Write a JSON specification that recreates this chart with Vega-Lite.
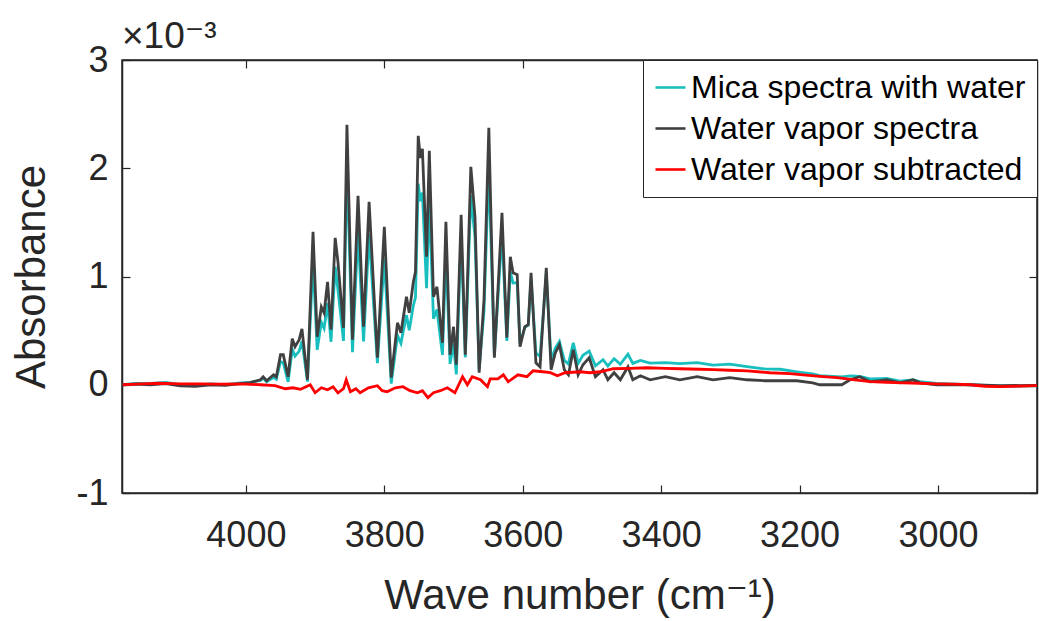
{
  "$schema": "https://vega.github.io/schema/vega-lite/v6.json",
  "width": 915,
  "height": 433,
  "autosize": {"type": "none"},
  "padding": {"left": 122, "top": 60, "right": 2, "bottom": 128},
  "background": "white",
  "title": {
    "text": "×10⁻³",
    "anchor": "start",
    "frame": "group",
    "fontSize": 37,
    "font": "Liberation Sans, DejaVu Sans",
    "fontWeight": "normal",
    "color": "#262626",
    "offset": -14
  },
  "config": {
    "view": {"stroke": "#262626", "strokeWidth": 1.5},
    "axis": {
      "grid": false,
      "domainColor": "#262626",
      "domainWidth": 1.5,
      "tickColor": "#262626",
      "tickWidth": 1.2,
      "tickSize": -8,
      "labelFont": "Liberation Sans",
      "labelFontSize": 36,
      "labelColor": "#262626",
      "titleFont": "Liberation Sans, DejaVu Sans",
      "titleFontSize": 42,
      "titleFontWeight": "normal",
      "titleColor": "#262626"
    },
    "legend": {
      "orient": "top-right",
      "offset": 0,
      "padding": 11,
      "strokeColor": "#262626",
      "strokeWidth": 1,
      "fillColor": "white",
      "cornerRadius": 0,
      "labelFont": "Liberation Sans",
      "labelFontSize": 32,
      "labelColor": "black",
      "labelLimit": 600,
      "labelOffset": 4,
      "symbolType": "stroke",
      "symbolSize": 900,
      "symbolStrokeWidth": 2.6,
      "rowPadding": 8
    }
  },
  "datasets": {
    "mica": [
      {"wn":4178,"absorbance":0},{"wn":4160,"absorbance":0.013},{"wn":4138,"absorbance":0.012},{"wn":4116,"absorbance":0.021},{"wn":4095,"absorbance":0},{"wn":4073,"absorbance":-0.004},{"wn":4051,"absorbance":0.007},{"wn":4030,"absorbance":0.002},{"wn":4008,"absorbance":0.017},{"wn":3994,"absorbance":0.022},{"wn":3979,"absorbance":0.039},{"wn":3975,"absorbance":0.06},{"wn":3970,"absorbance":0.026},{"wn":3965,"absorbance":0.049},{"wn":3960,"absorbance":0.069},{"wn":3956,"absorbance":0.051},{"wn":3950,"absorbance":0.213},{"wn":3946,"absorbance":0.203},{"wn":3939,"absorbance":0.027},{"wn":3933,"absorbance":0.327},{"wn":3929,"absorbance":0.265},{"wn":3923,"absorbance":0.31},{"wn":3919,"absorbance":0.404},{"wn":3911,"absorbance":0.029},{"wn":3903,"absorbance":1.147},{"wn":3897,"absorbance":0.322},{"wn":3891,"absorbance":0.577},{"wn":3887,"absorbance":0.522},{"wn":3882,"absorbance":0.753},{"wn":3877,"absorbance":0.397},{"wn":3871,"absorbance":1.09},{"wn":3867,"absorbance":0.88},{"wn":3859,"absorbance":0.405},{"wn":3854,"absorbance":2.05},{"wn":3846,"absorbance":0.3},{"wn":3838,"absorbance":1.416},{"wn":3830,"absorbance":0.4},{"wn":3822,"absorbance":1.392},{"wn":3810,"absorbance":0.2},{"wn":3800,"absorbance":1.166},{"wn":3790,"absorbance":0.01},{"wn":3781,"absorbance":0.455},{"wn":3776,"absorbance":0.383},{"wn":3768,"absorbance":0.643},{"wn":3764,"absorbance":0.504},{"wn":3758,"absorbance":0.734},{"wn":3755,"absorbance":0.806},{"wn":3751,"absorbance":1.857},{"wn":3748,"absorbance":1.696},{"wn":3745,"absorbance":1.775},{"wn":3739,"absorbance":0.893},{"wn":3735,"absorbance":1.705},{"wn":3729,"absorbance":0.609},{"wn":3724,"absorbance":0.695},{"wn":3716,"absorbance":0.276},{"wn":3711,"absorbance":1.229},{"wn":3705,"absorbance":0.193},{"wn":3700,"absorbance":0.385},{"wn":3696,"absorbance":0.095},{"wn":3689,"absorbance":1.369},{"wn":3683,"absorbance":0.253},{"wn":3675,"absorbance":1.75},{"wn":3669,"absorbance":1.363},{"wn":3663,"absorbance":0.143},{"wn":3656,"absorbance":0.674},{"wn":3649,"absorbance":2.02},{"wn":3641,"absorbance":0.264},{"wn":3630,"absorbance":1.414},{"wn":3623,"absorbance":0.405},{"wn":3618,"absorbance":1.043},{"wn":3614,"absorbance":0.939},{"wn":3608,"absorbance":0.943},{"wn":3604,"absorbance":0.383},{"wn":3597,"absorbance":0.53},{"wn":3592,"absorbance":0.55},{"wn":3588,"absorbance":0.979},{"wn":3581,"absorbance":0.296},{"wn":3575,"absorbance":0.261},{"wn":3566,"absorbance":1.022},{"wn":3559,"absorbance":0.225},{"wn":3553,"absorbance":0.338},{"wn":3547,"absorbance":0.4},{"wn":3540,"absorbance":0.227},{"wn":3534,"absorbance":0.191},{"wn":3527,"absorbance":0.388},{"wn":3520,"absorbance":0.197},{"wn":3513,"absorbance":0.272},{"wn":3504,"absorbance":0.31},{"wn":3495,"absorbance":0.175},{"wn":3484,"absorbance":0.232},{"wn":3477,"absorbance":0.174},{"wn":3468,"absorbance":0.241},{"wn":3459,"absorbance":0.189},{"wn":3448,"absorbance":0.283},{"wn":3441,"absorbance":0.197},{"wn":3430,"absorbance":0.225},{"wn":3416,"absorbance":0.2},{"wn":3394,"absorbance":0.204},{"wn":3373,"absorbance":0.195},{"wn":3348,"absorbance":0.205},{"wn":3325,"absorbance":0.182},{"wn":3301,"absorbance":0.19},{"wn":3276,"absorbance":0.167},{"wn":3250,"absorbance":0.146},{"wn":3228,"absorbance":0.143},{"wn":3204,"absorbance":0.12},{"wn":3181,"absorbance":0.1},{"wn":3171,"absorbance":0.085},{"wn":3139,"absorbance":0.072},{"wn":3127,"absorbance":0.082},{"wn":3113,"absorbance":0.078},{"wn":3098,"absorbance":0.054},{"wn":3084,"absorbance":0.056},{"wn":3074,"absorbance":0.058},{"wn":3055,"absorbance":0.034},{"wn":3036,"absorbance":0.045},{"wn":3026,"absorbance":0.029},{"wn":3002,"absorbance":0.012},{"wn":2954,"absorbance":0},{"wn":2911,"absorbance":-0.014},{"wn":2857,"absorbance":-0.01}
    ],
    "vapor": [
      {"wn":4178,"absorbance":0},{"wn":4160,"absorbance":0.005},{"wn":4138,"absorbance":0},{"wn":4116,"absorbance":0.01},{"wn":4095,"absorbance":-0.01},{"wn":4073,"absorbance":-0.015},{"wn":4051,"absorbance":0},{"wn":4030,"absorbance":-0.005},{"wn":4008,"absorbance":0.01},{"wn":3994,"absorbance":0.02},{"wn":3979,"absorbance":0.046},{"wn":3975,"absorbance":0.074},{"wn":3970,"absorbance":0.037},{"wn":3965,"absorbance":0.065},{"wn":3960,"absorbance":0.092},{"wn":3956,"absorbance":0.074},{"wn":3950,"absorbance":0.277},{"wn":3946,"absorbance":0.277},{"wn":3939,"absorbance":0.074},{"wn":3933,"absorbance":0.425},{"wn":3929,"absorbance":0.351},{"wn":3923,"absorbance":0.416},{"wn":3919,"absorbance":0.517},{"wn":3911,"absorbance":0.046},{"wn":3903,"absorbance":1.413},{"wn":3897,"absorbance":0.443},{"wn":3891,"absorbance":0.72},{"wn":3887,"absorbance":0.665},{"wn":3882,"absorbance":0.951},{"wn":3877,"absorbance":0.508},{"wn":3871,"absorbance":1.357},{"wn":3867,"absorbance":1.136},{"wn":3859,"absorbance":0.526},{"wn":3854,"absorbance":2.401},{"wn":3846,"absorbance":0.416},{"wn":3838,"absorbance":1.745},{"wn":3830,"absorbance":0.536},{"wn":3822,"absorbance":1.69},{"wn":3810,"absorbance":0.249},{"wn":3800,"absorbance":1.459},{"wn":3790,"absorbance":0.065},{"wn":3781,"absorbance":0.572},{"wn":3776,"absorbance":0.48},{"wn":3768,"absorbance":0.813},{"wn":3764,"absorbance":0.665},{"wn":3758,"absorbance":0.951},{"wn":3755,"absorbance":1.043},{"wn":3751,"absorbance":2.299},{"wn":3748,"absorbance":2.096},{"wn":3745,"absorbance":2.179},{"wn":3739,"absorbance":1.182},{"wn":3735,"absorbance":2.161},{"wn":3729,"absorbance":0.813},{"wn":3724,"absorbance":0.905},{"wn":3716,"absorbance":0.388},{"wn":3711,"absorbance":1.505},{"wn":3705,"absorbance":0.277},{"wn":3700,"absorbance":0.536},{"wn":3696,"absorbance":0.185},{"wn":3689,"absorbance":1.57},{"wn":3683,"absorbance":0.277},{"wn":3675,"absorbance":2.013},{"wn":3669,"absorbance":1.551},{"wn":3663,"absorbance":0.111},{"wn":3656,"absorbance":0.785},{"wn":3649,"absorbance":2.373},{"wn":3641,"absorbance":0.249},{"wn":3630,"absorbance":1.588},{"wn":3623,"absorbance":0.434},{"wn":3618,"absorbance":1.182},{"wn":3614,"absorbance":1.034},{"wn":3608,"absorbance":1.016},{"wn":3604,"absorbance":0.351},{"wn":3597,"absorbance":0.536},{"wn":3592,"absorbance":0.554},{"wn":3588,"absorbance":1.034},{"wn":3581,"absorbance":0.203},{"wn":3575,"absorbance":0.166},{"wn":3566,"absorbance":1.08},{"wn":3559,"absorbance":0.139},{"wn":3553,"absorbance":0.295},{"wn":3547,"absorbance":0.369},{"wn":3540,"absorbance":0.139},{"wn":3534,"absorbance":0.092},{"wn":3527,"absorbance":0.323},{"wn":3520,"absorbance":0.092},{"wn":3513,"absorbance":0.185},{"wn":3504,"absorbance":0.249},{"wn":3495,"absorbance":0.074},{"wn":3484,"absorbance":0.139},{"wn":3477,"absorbance":0.046},{"wn":3468,"absorbance":0.111},{"wn":3459,"absorbance":0.046},{"wn":3448,"absorbance":0.166},{"wn":3441,"absorbance":0.046},{"wn":3430,"absorbance":0.083},{"wn":3416,"absorbance":0.046},{"wn":3394,"absorbance":0.074},{"wn":3373,"absorbance":0.046},{"wn":3348,"absorbance":0.074},{"wn":3325,"absorbance":0.046},{"wn":3301,"absorbance":0.065},{"wn":3276,"absorbance":0.046},{"wn":3250,"absorbance":0.037},{"wn":3228,"absorbance":0.037},{"wn":3204,"absorbance":0.037},{"wn":3181,"absorbance":0.018},{"wn":3171,"absorbance":0},{"wn":3139,"absorbance":0},{"wn":3127,"absorbance":0.046},{"wn":3113,"absorbance":0.074},{"wn":3098,"absorbance":0.028},{"wn":3084,"absorbance":0.037},{"wn":3074,"absorbance":0.046},{"wn":3055,"absorbance":0.018},{"wn":3036,"absorbance":0.046},{"wn":3026,"absorbance":0.018},{"wn":3002,"absorbance":0},{"wn":2954,"absorbance":0},{"wn":2911,"absorbance":-0.009},{"wn":2857,"absorbance":-0.005}
    ],
    "subtracted": [
      {"wn":4178,"absorbance":0},{"wn":4152,"absorbance":0.009},{"wn":4124,"absorbance":0.014},{"wn":4095,"absorbance":0.009},{"wn":4066,"absorbance":0.009},{"wn":4037,"absorbance":0.005},{"wn":4008,"absorbance":0.009},{"wn":3979,"absorbance":0},{"wn":3958,"absorbance":-0.009},{"wn":3943,"absorbance":-0.037},{"wn":3932,"absorbance":-0.028},{"wn":3921,"absorbance":-0.042},{"wn":3907,"absorbance":0},{"wn":3900,"absorbance":-0.074},{"wn":3891,"absorbance":-0.028},{"wn":3882,"absorbance":-0.046},{"wn":3874,"absorbance":-0.018},{"wn":3867,"absorbance":-0.074},{"wn":3859,"absorbance":-0.037},{"wn":3855,"absorbance":0.046},{"wn":3849,"absorbance":-0.065},{"wn":3841,"absorbance":-0.037},{"wn":3835,"absorbance":-0.074},{"wn":3823,"absorbance":-0.028},{"wn":3810,"absorbance":-0.009},{"wn":3803,"absorbance":-0.055},{"wn":3796,"absorbance":-0.065},{"wn":3784,"absorbance":-0.028},{"wn":3773,"absorbance":-0.018},{"wn":3763,"absorbance":-0.055},{"wn":3752,"absorbance":-0.074},{"wn":3745,"absorbance":-0.055},{"wn":3737,"absorbance":-0.12},{"wn":3729,"absorbance":-0.074},{"wn":3719,"absorbance":-0.055},{"wn":3709,"absorbance":-0.028},{"wn":3698,"absorbance":-0.074},{"wn":3687,"absorbance":0.074},{"wn":3680,"absorbance":0},{"wn":3673,"absorbance":0.074},{"wn":3661,"absorbance":0.046},{"wn":3651,"absorbance":-0.018},{"wn":3647,"absorbance":0.055},{"wn":3636,"absorbance":0.055},{"wn":3628,"absorbance":0.092},{"wn":3621,"absorbance":0.028},{"wn":3607,"absorbance":0.092},{"wn":3594,"absorbance":0.074},{"wn":3585,"absorbance":0.129},{"wn":3571,"absorbance":0.12},{"wn":3560,"absorbance":0.111},{"wn":3550,"absorbance":0.083},{"wn":3539,"absorbance":0.111},{"wn":3517,"absorbance":0.12},{"wn":3503,"absorbance":0.111},{"wn":3488,"absorbance":0.12},{"wn":3469,"absorbance":0.148},{"wn":3445,"absorbance":0.152},{"wn":3420,"absorbance":0.157},{"wn":3394,"absorbance":0.152},{"wn":3373,"absorbance":0.148},{"wn":3344,"absorbance":0.143},{"wn":3325,"absorbance":0.139},{"wn":3301,"absorbance":0.134},{"wn":3276,"absorbance":0.129},{"wn":3243,"absorbance":0.111},{"wn":3214,"absorbance":0.102},{"wn":3195,"absorbance":0.092},{"wn":3171,"absorbance":0.078},{"wn":3146,"absorbance":0.065},{"wn":3120,"absorbance":0.046},{"wn":3098,"absorbance":0.028},{"wn":3074,"absorbance":0.023},{"wn":3051,"absorbance":0.018},{"wn":3026,"absorbance":0.014},{"wn":3002,"absorbance":0.009},{"wn":2976,"absorbance":0.005},{"wn":2954,"absorbance":0},{"wn":2932,"absorbance":-0.014},{"wn":2911,"absorbance":-0.018},{"wn":2889,"absorbance":-0.014},{"wn":2857,"absorbance":-0.009}
    ]
  },
  "layer": [
    {
      "data": {"name": "mica"},
      "mark": {"type": "line", "strokeWidth": 2.8, "clip": true},
      "encoding": {
        "x": {
          "field": "wn",
          "type": "quantitative",
          "scale": {"domain": [2857, 4179], "reverse": true, "nice": false, "zero": false},
          "axis": {
            "orient": "bottom",
            "values": [3000, 3200, 3400, 3600, 3800, 4000],
            "labelExpr": "'' + datum.value",
            "labelPadding": 33,
            "title": "Wave number (cm⁻¹)",
            "titlePadding": 22
          }
        },
        "y": {
          "field": "absorbance",
          "type": "quantitative",
          "scale": {"domain": [-1, 3], "nice": false, "zero": false},
          "axis": {
            "orient": "left",
            "values": [-1, 0, 1, 2, 3],
            "labelExpr": "'' + datum.value",
            "labelPadding": 22,
            "title": "Absorbance",
            "titlePadding": 22
          }
        },
        "color": {
          "datum": "Mica spectra with water",
          "type": "nominal",
          "scale": {
            "domain": ["Mica spectra with water", "Water vapor spectra", "Water vapor subtracted"],
            "range": ["#19BFBF", "#404040", "#FF0000"]
          },
          "legend": {"title": null}
        }
      }
    },
    {
      "data": {"name": "vapor"},
      "mark": {"type": "line", "strokeWidth": 2.8, "clip": true},
      "encoding": {
        "x": {
          "field": "wn",
          "type": "quantitative",
          "axis": {"orient": "top", "values": [3000, 3200, 3400, 3600, 3800, 4000], "labels": false, "title": null}
        },
        "y": {
          "field": "absorbance",
          "type": "quantitative",
          "axis": {"orient": "right", "values": [-1, 0, 1, 2, 3], "labels": false, "title": null}
        },
        "color": {"datum": "Water vapor spectra", "type": "nominal"}
      }
    },
    {
      "data": {"name": "subtracted"},
      "mark": {"type": "line", "strokeWidth": 2.8, "clip": true},
      "encoding": {
        "x": {"field": "wn", "type": "quantitative", "axis": null},
        "y": {"field": "absorbance", "type": "quantitative", "axis": null},
        "color": {"datum": "Water vapor subtracted", "type": "nominal"}
      }
    }
  ],
  "resolve": {"axis": {"x": "independent", "y": "independent"}}
}
